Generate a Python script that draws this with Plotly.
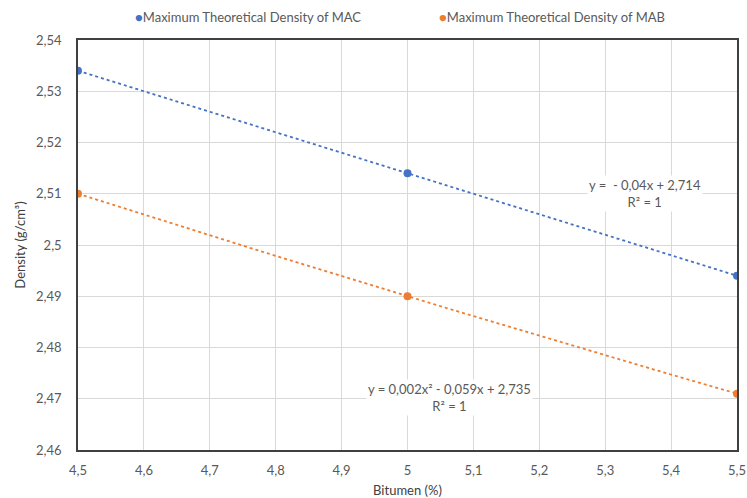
import numpy as np
import plotly.graph_objects as go

bitumen = [4.5, 5.0, 5.5]
mac_density = [2.534, 2.514, 2.494]
mab_density = [2.510, 2.490, 2.471]
x_ticks = [4.5, 4.6, 4.7, 4.8, 4.9, 5.0, 5.1, 5.2, 5.3, 5.4, 5.5]
x_ticklabels = ["4,5", "4,6", "4,7", "4,8", "4,9", "5", "5,1", "5,2", "5,3", "5,4", "5,5"]
y_ticks = [2.46, 2.47, 2.48, 2.49, 2.50, 2.51, 2.52, 2.53, 2.54]
y_ticklabels = ["2,46", "2,47", "2,48", "2,49", "2,5", "2,51", "2,52", "2,53", "2,54"]
series_names = ["Maximum Theoretical Density of MAC", "Maximum Theoretical Density of MAB"]

blue = "#4472C4"
orange = "#ED7D31"
font = "Lato, Roboto, sans-serif"
txt = "#595959"

# trendlines from the data
xs = np.linspace(min(bitumen), max(bitumen), 60)
mac_fit = np.polyval(np.polyfit(bitumen, mac_density, 1), xs)
mab_fit = np.polyval(np.polyfit(bitumen, mab_density, 2), xs)

fig = go.Figure()
fig.add_trace(go.Scatter(x=xs, y=mac_fit, mode="lines", line=dict(color=blue, width=1.8, dash="dot"),
                         showlegend=False, hoverinfo="skip"))
fig.add_trace(go.Scatter(x=xs, y=mab_fit, mode="lines", line=dict(color=orange, width=1.8, dash="dot"),
                         showlegend=False, hoverinfo="skip"))
fig.add_trace(go.Scatter(x=bitumen, y=mac_density, mode="markers", name=series_names[0],
                         marker=dict(color=blue, size=8), showlegend=False))
fig.add_trace(go.Scatter(x=bitumen, y=mab_density, mode="markers", name=series_names[1],
                         marker=dict(color=orange, size=8), showlegend=False))

# legend drawn as text (tight marker/text spacing as in reference)
for xp, name, col in [(133, series_names[0], blue), (437, series_names[1], orange)]:
    fig.add_annotation(xref="paper", yref="paper", x=(xp - 78) / 659, y=1 + (40 - 17) / 410,
                       xanchor="left", yanchor="middle", showarrow=False,
                       text=f'<span style="color:{col}">●</span>{name}',
                       font=dict(size=13, color=txt, family=font))

fig.add_annotation(x=5.360, y=2.5101, text="y =  - 0,04x + 2,714<br>R² = 1", showarrow=False,
                   bgcolor="white", font=dict(size=13, color=txt, family=font), xanchor="center")
fig.add_annotation(x=5.063, y=2.4703, text="y = 0,002x² - 0,059x + 2,735<br>R² = 1", showarrow=False,
                   bgcolor="white", font=dict(size=13, color=txt, family=font), xanchor="center")

fig.update_layout(
    width=747, height=498,
    margin=dict(l=78, r=10, t=40, b=48, autoexpand=False),
    paper_bgcolor="white", plot_bgcolor="white",
    font=dict(family=font, size=13, color=txt),
    showlegend=False,
    xaxis=dict(range=[4.5, 5.5], tickvals=x_ticks, ticktext=x_ticklabels,
               showgrid=True, gridcolor="#D9D9D9", gridwidth=1,
               showline=True, linecolor="#404040", linewidth=1.5, mirror=True,
               zeroline=False, ticks="", ticklabelstandoff=8,
               tickfont=dict(size=13, color=txt),
               title=dict(text="Bitumen (%)", standoff=10, font=dict(size=13, color="#404040"))),
    yaxis=dict(range=[2.46, 2.54], tickvals=y_ticks, ticktext=y_ticklabels,
               showgrid=True, gridcolor="#D9D9D9", gridwidth=1,
               showline=True, linecolor="#404040", linewidth=1.5, mirror=True,
               zeroline=False, ticks="", ticklabelstandoff=12,
               tickfont=dict(size=13, color=txt),
               title=dict(text="Density (g/cm³)", standoff=8, font=dict(size=13, color="#404040"))),
)

fig.write_html("out.html")
